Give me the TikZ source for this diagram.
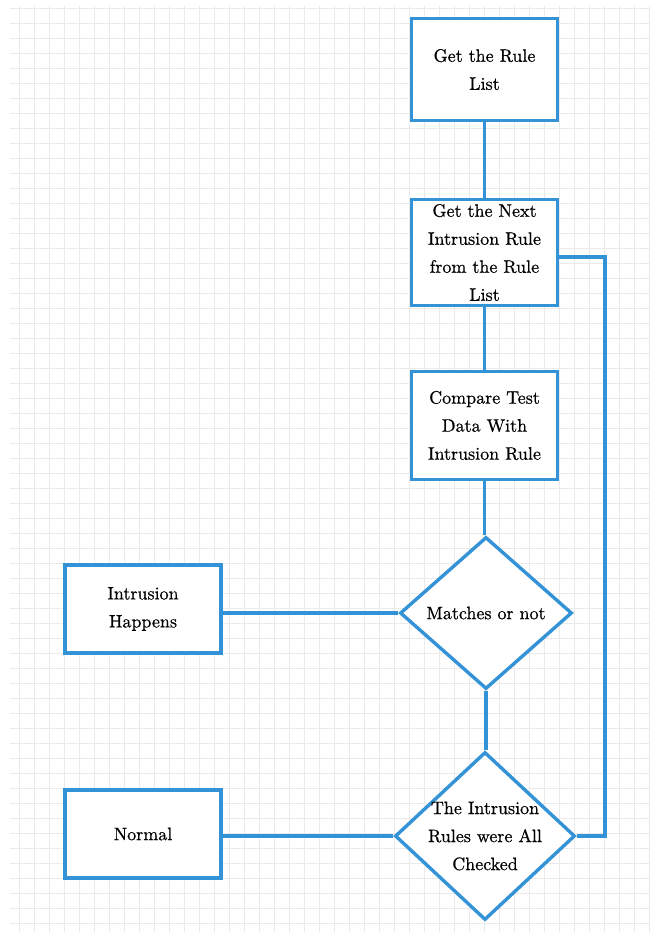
\documentclass[tikz,border=0pt]{standalone}
\usepackage{fontspec}
\newfontfamily\labelfont{lmroman10-regular.otf}[FakeBold=0.6]
\usetikzlibrary{shapes.geometric}
\definecolor{flowblue}{RGB}{52,146,214}
\definecolor{gridgray}{RGB}{234,234,234}
\begin{document}
\begin{tikzpicture}[x=1pt,y=-1pt,
  every node/.style={font=\labelfont\fontsize{18}{28}\selectfont, align=center, text=black},
  stepbox/.style={draw=flowblue, line width=3.4pt, fill=white, rectangle,
    minimum width=146pt, minimum height=102pt, inner sep=0pt},
  decision/.style={draw=flowblue, line width=3.4pt, fill=white, diamond,
    inner sep=0pt},
  link/.style={draw=flowblue, line width=3.2pt}]
  % canvas
  \useasboundingbox (0,0) rectangle (654,938);
  \fill[white] (0,0) rectangle (654,938);
  % background grid
  \foreach \gx in {19,34,...,649} \draw[gridgray, line width=0.8pt] (\gx,6) -- (\gx,932);
  \foreach \gy in {8,23,...,932} \draw[gridgray, line width=0.8pt] (10,\gy) -- (650,\gy);

  \coordinate (loopTop) at (605,257);

  % process boxes
  \node[stepbox, minimum height=102pt] (list) at (484.5,69.5) {Get the Rule\\List};
  \node[stepbox, minimum height=106pt] (next) at (484.5,252.5) {Get the Next\\Intrusion Rule\\from the Rule\\List};
  \node[stepbox, minimum height=108pt] (cmp) at (484.5,425.5) {Compare Test\\Data With\\Intrusion Rule};
  \node[stepbox, minimum width=156pt, minimum height=88pt] (intr) at (143,609) {Intrusion\\Happens};
  \node[stepbox, minimum width=156pt, minimum height=88pt] (norm) at (143,834) {Normal};

  % decisions: fixed-size diamonds with their labels on top
  \node[decision, minimum width=172pt, minimum height=152pt] (match) at (486,613) {};
  \node (matchlabel) at (match.center) {Matches or not};
  \node[decision, minimum width=180pt, minimum height=168pt] (done) at (485,836) {};
  \node (donelabel) at (done.center) {The Intrusion\\Rules were All\\Checked};

  % connectors
  \path[link] (list.south) -- (next.north);
  \path[link] (next.south) -- (cmp.north);
  \path[link] (cmp.south) -- (cmp.south |- match.north);
  \path[link] (match.south) -- (match.south |- done.north);
  \path[link] (match.west) -- (intr.east |- match.west);
  \path[link] (done.west) -- (norm.east |- done.west);
  \path[link] (next.east |- loopTop) -- (loopTop) -- (loopTop |- done.east) -- (done.east);
\end{tikzpicture}
\end{document}
